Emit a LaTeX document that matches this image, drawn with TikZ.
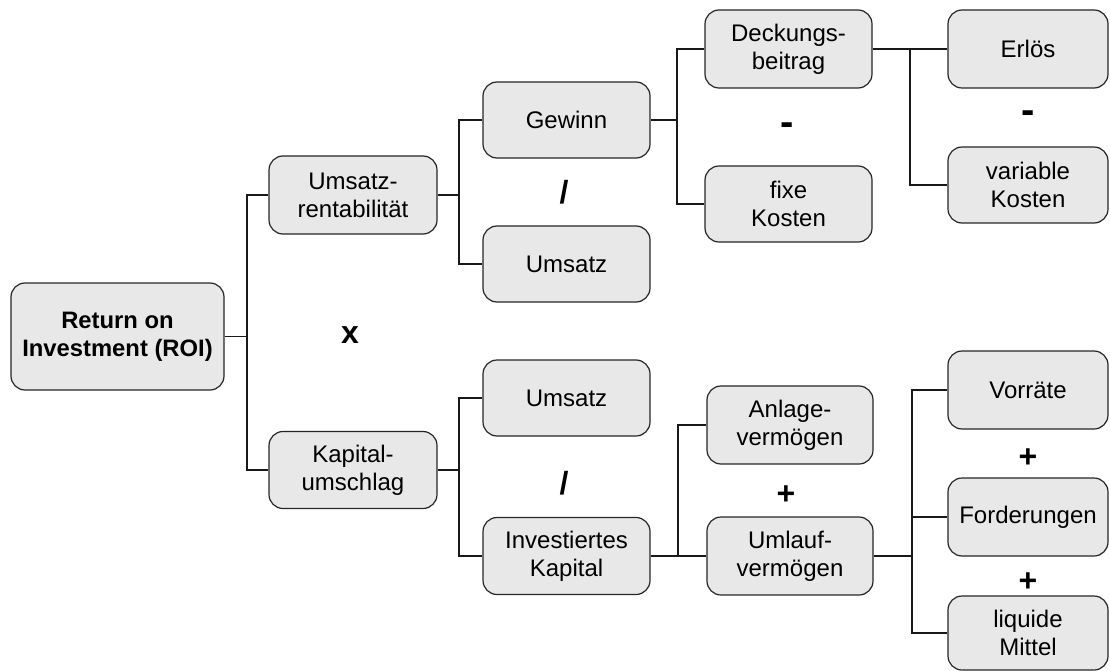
\documentclass[tikz,border=0pt]{standalone}
\usepackage{fontspec}
\setmainfont{Liberation Sans}
\begin{document}
\begin{tikzpicture}[x=1pt,y=-1pt,
  box/.style={draw=black!85, line width=1.2pt, fill=black!9, rounded corners=14pt,
    align=center, inner sep=0pt, font=\fontsize{24}{28}\selectfont},
  link/.style={line width=1.2pt, draw=black!90},
  op/.style={font=\fontsize{32}{34}\selectfont\bfseries, inner sep=0pt},
  minus/.style={font=\fontsize{40}{42}\selectfont\bfseries, inner sep=0pt}]
\useasboundingbox (0,0) rectangle (1110,671);

% level 0
\node[box, minimum width=213pt, minimum height=107pt, font=\fontsize{23.8}{28}\selectfont\bfseries]
  (roi) at (117.5,336.5) {Return on\\Investment (ROI)};

% level 1
\node[box, minimum width=168pt, minimum height=78pt] (ur) at (353,195) {Umsatz-\\rentabilität};
\node[box, minimum width=168pt, minimum height=77pt] (ku) at (353,470) {Kapital-\\umschlag};

% level 2
\node[box, minimum width=167pt, minimum height=76pt] (gew) at (566.5,120) {Gewinn};
\node[box, minimum width=167pt, minimum height=76pt] (ums1) at (566.5,264) {Umsatz};
\node[box, minimum width=167pt, minimum height=76pt] (ums2) at (566.5,398) {Umsatz};
\node[box, minimum width=167pt, minimum height=77pt] (ik) at (566.5,556) {Investiertes\\Kapital};

% level 3
\node[box, minimum width=167pt, minimum height=78pt] (db) at (788.5,49) {Deckungs-\\beitrag};
\node[box, minimum width=167pt, minimum height=76pt] (fk) at (788.5,204) {fixe\\Kosten};
\node[box, minimum width=166pt, minimum height=78pt] (av) at (790,425) {Anlage-\\vermögen};
\node[box, minimum width=166pt, minimum height=78pt] (uv) at (790,556) {Umlauf-\\vermögen};

% level 4
\node[box, minimum width=160pt, minimum height=78pt] (erl) at (1028,49) {Erlös};
\node[box, minimum width=160pt, minimum height=76pt] (vk) at (1028,185) {variable\\Kosten};
\node[box, minimum width=160pt, minimum height=78pt] (vor) at (1028,390) {Vorräte};
\node[box, minimum width=160pt, minimum height=78pt] (ford) at (1028,517) {Forderungen};
\node[box, minimum width=160pt, minimum height=74pt] (lm) at (1028,633) {liquide\\Mittel};

% operators
\node[op] (o1) at (350,335) {x};
\node[op] (o2) at (564,192) {/};
\node[op] (o3) at (564,483) {/};
\node[minus] (o4) at (787,129) {-};
\node[minus] (o5) at (1028,117) {-};
\node[op] (o6) at (786,495) {+};
\node[op] (o7) at (1028,458) {+};
\node[op] (o8) at (1028,582) {+};

% tree connectors
\coordinate (j0) at (247,336.5);
\draw[link] (roi.east) -- (j0);
\draw[link] (j0) |- (ur.west);
\draw[link] (j0) |- (ku.west);

\coordinate (j1) at (459,195);
\draw[link] (ur.east) -- (j1);
\draw[link] (j1) |- (gew.west);
\draw[link] (j1) |- (ums1.west);

\coordinate (j2) at (459,470);
\draw[link] (ku.east) -- (j2);
\draw[link] (j2) |- (ums2.west);
\draw[link] (j2) |- (ik.west);

\coordinate (j3) at (677,120);
\draw[link] (gew.east) -- (j3);
\draw[link] (j3) |- (db.west);
\draw[link] (j3) |- (fk.west);

\coordinate (j4) at (910,49);
\draw[link] (db.east) -- (j4);
\draw[link] (j4) -- (erl.west);
\draw[link] (j4) |- (vk.west);

\coordinate (j5) at (678,556);
\draw[link] (ik.east) -- (j5);
\draw[link] (j5) |- (av.west);
\draw[link] (j5) -- (uv.west);

\coordinate (j6) at (912,556);
\draw[link] (uv.east) -- (j6);
\draw[link] (j6) |- (vor.west);
\draw[link] (j6) |- (ford.west);
\draw[link] (j6) |- (lm.west);
\end{tikzpicture}
\end{document}
